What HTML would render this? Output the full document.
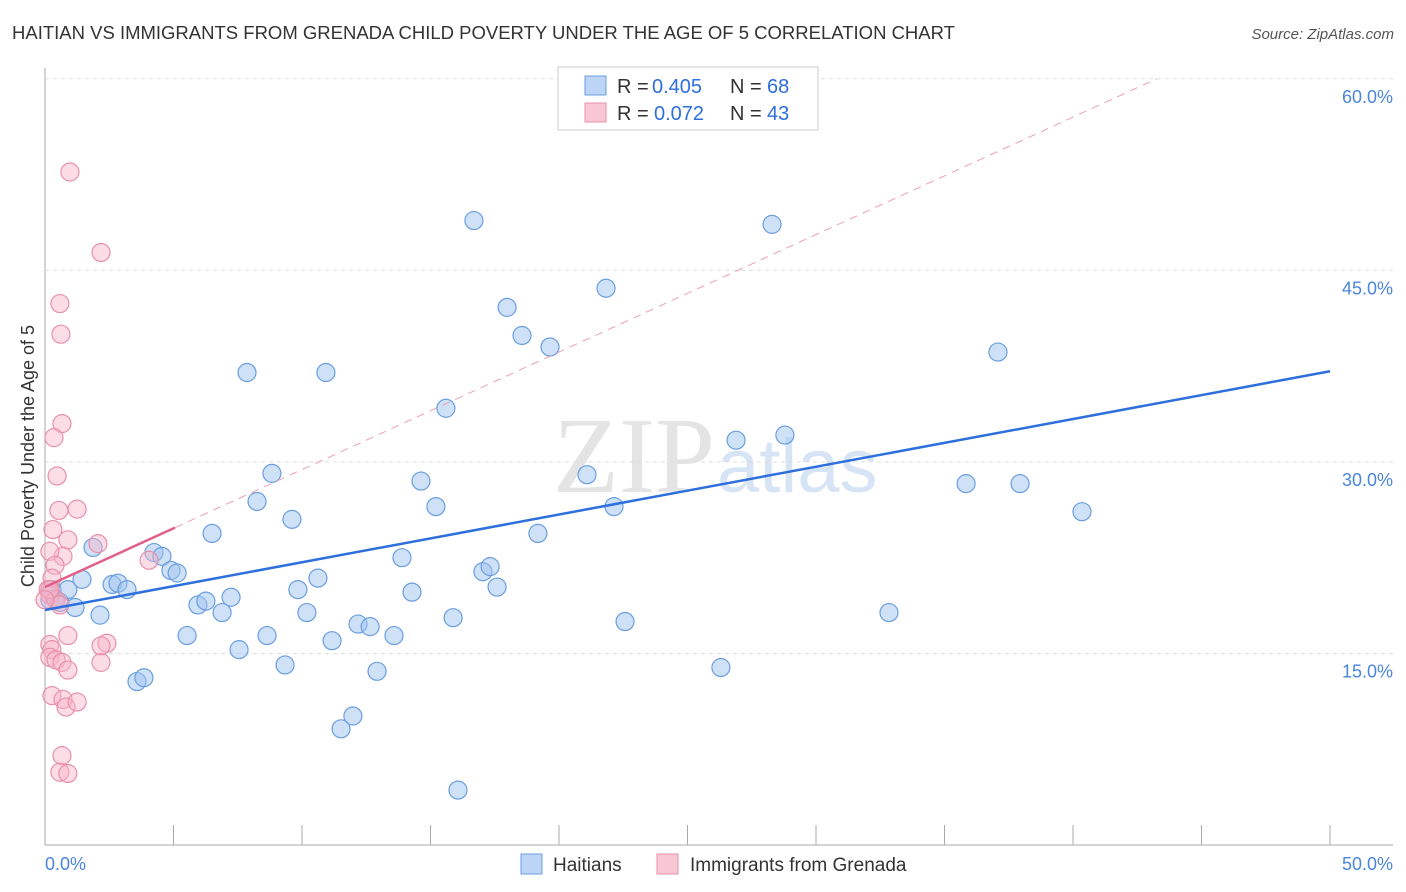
<!DOCTYPE html>
<html><head><meta charset="utf-8"><style>
body{margin:0;background:#fff;font-family:"Liberation Sans",sans-serif;}
svg{display:block}
</style></head><body>
<svg id="chart" width="1406" height="892">
<text x="12" y="39" font-size="18.5" fill="#333">HAITIAN VS IMMIGRANTS FROM GRENADA CHILD POVERTY UNDER THE AGE OF 5 CORRELATION CHART</text>
<text x="1394" y="39" font-size="15" fill="#555" text-anchor="end" font-style="italic">Source: ZipAtlas.com</text>
<text x="715" y="492" font-size="108" fill="#e4e4e4" text-anchor="end" font-family="Liberation Serif">ZIP</text>
<text x="717" y="492" font-size="76" fill="#d6e4f6">atlas</text>
<text transform="translate(34,456) rotate(-90)" font-size="18" fill="#333" text-anchor="middle">Child Poverty Under the Age of 5</text>
<g id="grid"></g><g id="marks"></g>
<g>
<rect x="558" y="67" width="260" height="63" fill="#fff" stroke="#ccc"/>
<rect x="585" y="76" width="21" height="19" fill="#bcd4f6" stroke="#6a9ee0"/>
<rect x="585" y="103" width="21" height="19" fill="#f9c6d4" stroke="#e890aa"/>
<g font-size="20" fill="#333">
<text x="617" y="93">R =</text><text x="652" y="93" fill="#2d6fdc">0.405</text><text x="730" y="93">N =</text><text x="767" y="93" fill="#2d6fdc">68</text></g>
<g font-size="20" fill="#333">
<text x="617" y="120">R =</text><text x="654" y="120" fill="#2d6fdc">0.072</text><text x="730" y="120">N =</text><text x="767" y="120" fill="#2d6fdc">43</text></g>
</g>
<g>
<rect x="521" y="854" width="21" height="20" fill="#bcd4f6" stroke="#6a9ee0"/>
<text x="553" y="871" font-size="19" fill="#333">Haitians</text>
<rect x="657" y="854" width="21" height="20" fill="#f9c6d4" stroke="#e890aa"/>
<text x="690" y="871" font-size="19" fill="#333">Immigrants from Grenada</text>
</g>
</svg>
<script>
const yTicks=[15,30,45,60];
const yTickLabels=["15.0%","30.0%","45.0%","60.0%"];
const xTickVals=[0,5,10,15,20,25,30,35,40,45,50];
const xEndLabels=["0.0%","50.0%"];
const blueX=[1.87,0.27,0.19,0.39,0.58,1.17,0.89,1.44,2.14,2.61,2.84,3.19,3.58,3.85,4.24,4.55,4.90,5.14,5.53,5.95,6.26,6.50,6.89,7.24,7.55,7.86,8.25,8.64,8.83,9.34,9.61,9.84,10.19,10.62,10.93,11.17,11.52,11.98,12.18,12.65,12.92,13.58,13.89,14.28,14.63,15.21,15.60,15.88,16.07,16.69,17.04,17.32,17.59,17.98,18.56,19.18,19.65,21.09,21.83,22.14,22.57,26.30,26.89,28.29,28.79,32.84,35.84,37.08,37.94,40.35];
const blueY=[23.3,20.0,19.2,19.3,19.0,18.6,20.0,20.8,18.0,20.4,20.5,20.0,12.8,13.1,22.9,22.6,21.5,21.3,16.4,18.8,19.1,24.4,18.2,19.4,15.3,37.0,26.9,16.4,29.1,14.1,25.5,20.0,18.2,20.9,37.0,16.0,9.1,10.1,17.3,17.1,13.6,16.4,22.5,19.8,28.5,26.5,34.2,17.8,4.3,48.9,21.4,21.8,20.2,42.1,39.9,24.4,39.0,29.0,43.6,26.5,17.5,13.9,31.7,48.6,32.1,18.2,28.3,38.6,28.3,26.1];
const pinkX=[0.97,2.18,0.58,0.62,0.66,0.35,0.47,0.54,1.25,0.31,0.89,2.06,0.70,4.05,0.19,0.39,0.27,0.12,0.19,0.43,0.58,0.89,0.19,0.27,0.19,0.43,0.66,0.89,2.18,2.41,2.18,0.27,0.70,0.82,1.25,0.66,0.58,0.89,0.19,0.0];
const pinkY=[52.7,46.4,42.4,40.0,33.0,31.9,28.9,26.2,26.3,24.7,23.9,23.6,22.6,22.3,23.0,21.9,20.9,20.0,19.6,19.2,18.8,16.4,15.7,15.3,14.7,14.5,14.3,13.7,14.3,15.8,15.6,11.7,11.4,10.8,11.2,7.0,5.7,5.6,20.0,19.2];
const blueTrend=[18.4,0.374];
const pinkTrend=[20.2,0.92];
const pinkSolidEnd=5.06;

const X=v=>45+v*25.7, Y=v=>845-v*12.77;
const NS="http://www.w3.org/2000/svg";
const grid=document.getElementById('grid'), marks=document.getElementById('marks');
function mk(p,tag,at){const e=document.createElementNS(NS,tag);for(const k in at)e.setAttribute(k,at[k]);p.appendChild(e);return e;}
let ax=mk(grid,'line',{x1:45,y1:68,x2:45,y2:845,stroke:'#aaa'});


let bx=mk(grid,'line',{x1:45,y1:845,x2:1393,y2:845,stroke:'#aaa'});


yTicks.forEach((t,i)=>{
 let g=mk(grid,'line',{x1:45,x2:1393,y1:Y(t),y2:Y(t),stroke:'#ddd','stroke-dasharray':'4,4'});
 
 
 let l=mk(grid,'text',{x:1393,y:Y(t)+24,'font-size':18,fill:'#4a86dc','text-anchor':'end'});l.textContent=yTickLabels[i];
 
 
});
xTickVals.forEach(t=>{
 let k=mk(grid,'line',{x1:X(t),x2:X(t),y1:825,y2:845,stroke:'#aaa'});
 
 
});
let x0=mk(grid,'text',{x:45,y:870,'font-size':18,fill:'#4a86dc'});x0.textContent=xEndLabels[0];


let x1=mk(grid,'text',{x:1393,y:870,'font-size':18,fill:'#4a86dc','text-anchor':'end'});x1.textContent=xEndLabels[1];


blueX.forEach((v,i)=>{
 let c=mk(marks,'circle',{cx:X(v),cy:Y(blueY[i]),r:9,fill:'rgba(160,196,240,0.5)',stroke:'#6a9ee0','stroke-width':1.2});
 
 
});
pinkX.forEach((v,i)=>{
 let c=mk(marks,'circle',{cx:X(v),cy:Y(pinkY[i]),r:9,fill:'rgba(248,180,200,0.45)',stroke:'#e890aa','stroke-width':1.2});
 
 
});
const pEndX=(60-pinkTrend[0])/pinkTrend[1];
let pd=mk(marks,'line',{x1:X(pinkSolidEnd),y1:Y(pinkTrend[0]+pinkTrend[1]*pinkSolidEnd),x2:X(pEndX),y2:Y(60),stroke:'#eaa0b8','stroke-width':1,'stroke-dasharray':'8,6'});


let ps=mk(marks,'line',{x1:X(0),y1:Y(pinkTrend[0]),x2:X(pinkSolidEnd),y2:Y(pinkTrend[0]+pinkTrend[1]*pinkSolidEnd),stroke:'#e0608a','stroke-width':2.5});


let bl=mk(marks,'line',{x1:X(0),y1:Y(blueTrend[0]),x2:X(50),y2:Y(blueTrend[0]+blueTrend[1]*50),stroke:'#2d6fdc','stroke-width':2.5});


</script>
</body></html>
